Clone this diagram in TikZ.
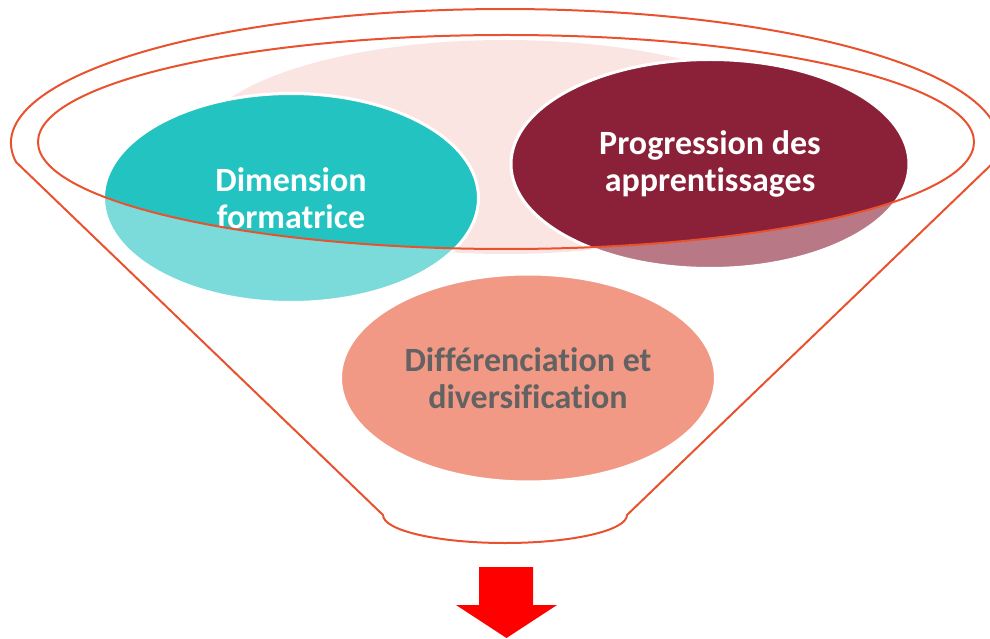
\documentclass[tikz,border=0pt]{standalone}
\usepackage{fontspec}
\setmainfont[Ligatures=NoCommon]{Carlito}
\usepackage{tikz}
\usetikzlibrary{shapes.geometric}
\definecolor{rimline}{RGB}{233,82,47}
\definecolor{tealdark}{RGB}{34,195,193}
\definecolor{teallight}{RGB}{122,219,218}
\definecolor{wine}{RGB}{139,33,57}
\definecolor{winelight}{RGB}{185,120,134}
\definecolor{salmon}{RGB}{242,153,134}
\definecolor{blush}{RGB}{251,229,227}
\definecolor{greytext}{RGB}{98,98,98}
\tikzstyle{bubble} = [ellipse, draw=white, line width=3pt, inner sep=0pt, align=center, font=\fontsize{34}{37}\selectfont\bfseries]
\tikzstyle{rim} = [draw=rimline, line width=2pt]
\tikzstyle{downarrow} = [fill=red]

\begin{document}
\begin{tikzpicture}[x=1pt, y=1pt]
  \useasboundingbox (0,0) rectangle (990,638);

  \coordinate (mouth) at (506,496);
  \fill[blush] (505,491) ellipse [x radius=309, y radius=107];

  \node[bubble, fill=teallight, text=white, minimum width=375pt, minimum height=209pt,
        path picture={\fill[tealdark] (mouth) ellipse [x radius=468, y radius=107];}]
        (dimension) at (291,440) {Dimension\\formatrice};
  \node[bubble, fill=winelight, text=white, minimum width=398pt, minimum height=209pt,
        path picture={\fill[wine] (mouth) ellipse [x radius=468, y radius=107];}]
        (progression) at (710,474) {Progression des\\apprentissages};
  \node[bubble, fill=salmon, text=greytext, minimum width=375pt, minimum height=208pt]
        (differenciation) at (528,260) {Différenciation et\\diversification};

  % funnel
  \path[rim] (mouth) ellipse [x radius=468, y radius=107];
  \path[rim] (16,476) arc [start angle=188.15, end angle=-8.15, x radius=494, y radius=134]
    -- (627,123) arc [start angle=0, end angle=-180, x radius=122, y radius=28] -- cycle;

  \path[downarrow] (479,71) -- (533,71) -- (533,33) -- (557,33) -- (506.5,0) -- (456,33) -- (479,33) -- cycle;

\end{tikzpicture}
\end{document}
